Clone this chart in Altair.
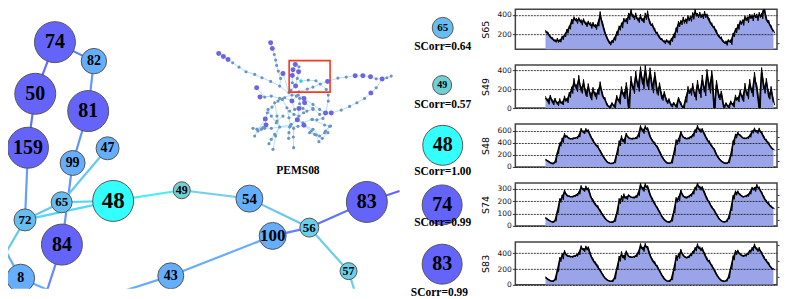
import altair as alt
import pandas as pd

PURPLE = "#6464fb"
BLUE = "#64aefb"
SKY = "#66bef0"
CYAN = "#33ffff"
TEAL = "#72d0d4"
AQUA = "#68d0e8"

# main network nodes: label, x, y, radius, colour, font size
n_labels = ["74","82","50","81","159","47","99","48","65","72","84","8","49","43","54","100","56","83","57"]
n_x = [55,94,35.3,88.3,28,107.7,72.7,113.3,61.7,25,62,20.7,182,171,249.7,273,309.7,367.3,349]
n_y = [41,60,92.7,110,146.7,147.3,162,200,201.3,219,243.7,277.3,189.3,275,197.7,235,226.7,201,270.3]
n_r = [20.5,12.7,20.5,20.5,20.5,11.5,12.5,20.5,10.5,11,20.5,14,8.5,13,13.5,13.5,9.5,20.5,8.5]
n_c = [PURPLE,BLUE,PURPLE,PURPLE,PURPLE,BLUE,BLUE,CYAN,SKY,SKY,PURPLE,BLUE,TEAL,BLUE,BLUE,BLUE,AQUA,PURPLE,AQUA]
n_f = [20,14,20,20,20,14,14,23,13,13,20,14,12,14,15,17,13,20,12]

# main network edges: x, y, x2, y2, colour
e_x  = [55,55,35.3,28,94,88.3,72.7,107.7,61.7,61.7,25,25,0,20.7,62,113.3,182,249.7,309.7,309.7,367.3,273,171,309.7,349]
e_y  = [41,41,92.7,146.7,60,110,162,147.3,201.3,201.3,219,219,240,277.3,243.7,200,189.3,197.7,226.7,226.7,201,235,275,226.7,270.3]
e_x2 = [94,35.3,28,25,88.3,72.7,62,61.7,113.3,25,113.3,0,20.7,50,47,182,249.7,309.7,273,367.3,400,171,124,349,355]
e_y2 = [60,92.7,146.7,219,110,162,243.7,201.3,200,219,200,262,277.3,290,290,189.3,197.7,226.7,235,201,190,275,290,270.3,290]
e_c  = ["#6080fb","#6070fb","#6070fb","#64a0f8","#6498fb","#6490fb","#6498f4","#64c8f4","#50d8f4","#64c8f0",
        "#55d8f4","#64c8f0","#64aef0","#64aefb","#6488fb","#45f0f0","#78d0e8","#68c4f0","#6480fb","#6472fb",
        "#6464fb","#64aefb","#64aefb","#68d0e8","#68d0e8"]

# PEMS08 overview map
mini_paths = [
    [(57,97),(71,106),(85,115),(99,125),(118,138),(139,152),(165,160),(187,170),(213,181),(240,195),(268,215)],
    [(213,65),(218,82),(224,100),(228,117),(231,133),(236,150),(243,172),(240,195)],
    [(287,130),(298,137),(297,152),(293,172),(288,195),(274,207)],
    [(287,130),(280,146),(278,163),(278,185)],
    [(304,180),(326,177),(349,179),(362,189),(384,181),(415,171),(440,168),(467,164),(490,164),(513,167),(530,173),(548,174),(562,170),(575,165)],
    [(270,212),(298,212),(323,204),(340,198),(362,189),(380,205)],
    [(548,174),(530,200),(514,216),(495,232),(472,245),(450,256),(425,267),(395,276),(378,276),(360,265),(340,250),(313,232),(296,222),(277,222)],
    [(386,222),(386,240),(378,276),(370,292),(352,296),(337,295),(310,305),(293,296),(275,310),(240,318)],
    [(171,200),(195,228),(215,225),(240,232),(277,222)],
    [(181,228),(215,225)],
    [(268,215),(250,157)],
    [(296,222),(277,240),(255,230),(235,240),(217,258),(203,275),(197,294),(199,312),(172,325)],
    [(240,318),(215,322),(190,320),(160,322)],
    [(240,318),(225,340),(215,355),(208,368)],
    [(240,318),(228,345),(220,385)],
    [(270,318),(268,335),(267,352)],
    [(282,322),(281,348),(282,380)],
    [(313,313),(335,330),(350,342),(358,362)],
    [(338,295),(375,312),(390,316),(378,330),(385,335),(368,352)],
    [(195,295),(165,345)],
    [(240,318),(270,318),(295,316),(313,313),(340,325),(368,352)],
    [(277,240),(285,265),(298,262),(293,296),(312,310)],
    [(313,232),(315,245),(340,262),(360,280),(378,276)],
    [(225,245),(232,285),(240,318)],
    [(248,235),(262,260),(268,290),(272,315)],
    [(205,265),(215,285),(230,305),(240,318)],
    [(378,330),(393,315)],
    [(270,270),(283,280),(298,285),(312,275),(322,270),(340,265)],
    [(250,285),(232,300)],
    [(300,248),(310,262),(322,270)],
    [(330,335),(345,340),(360,345),(375,335)],
    [(290,225),(300,232),(300,248)],
    [(185,325),(195,322),(175,330)],
]
mini_big = [(57,97),(71,106),(85,115),(213,65),(218,82),(250,157),(171,200),(181,228),(277,240),(313,232),
            (315,245),(298,262),(293,296),(197,294),(199,312),(313,313),(378,276),(395,276),(514,216),(548,174),
            (513,167),(490,164),(467,164),(384,181),(287,130),(280,146),(297,152),(278,163),(288,195)]
mini_cyan = [(304,180)]

box_x, box_x2, box_y, box_y2 = [289.5], [330.5], [59.5], [91]
title_x, title_y, title_text = [298.3], [170], ["PEMS08"]

# selected sensors next to the traces
s_labels = ["65","49","48","74","83"]
s_x = [443.3,442.7,443.3,442.7,442.7]
s_y = [26.7,84,144.3,204,263.3]
s_r = [10.5,9.5,20,20,20]
s_c = [SKY,TEAL,CYAN,PURPLE,PURPLE]
s_f = [11,10,20,20,20]
c_text = ["SCorr=0.64","SCorr=0.57","SCorr=1.00","SCorr=0.99","SCorr=0.99"]
c_x = [443.3,443.3,443.3,443.3,440]
c_y = [46.3,103.7,171,221.7,291.7]

# traces: centre line, and half-thickness of the noisy black band
S65 = [228,205,170,145,128,135,128,160,185,230,268,330,362,338,355,322,340,302,318,290,300,275,300,395,300,210,150,105,120,150,205,262,290,345,335,385,425,375,390,345,375,340,385,400,310,290,235,205,160,140,115,130,108,140,180,240,305,320,345,335,365,360,390,425,395,400,385,405,390,335,295,265,215,175,150,115,105,130,115,190,235,275,320,320,365,350,385,370,395,375,400,390,470,350,320,270,225]
N65 = [12,18,14,20,16,24,14,20,16,22,18,26,20,28,18,30,22,26,20,32,24,28,18,40,26,20,16,22,14,18,20,24,28,22,30,36,42,28,32,26,34,24,36,44,26,22,28,18,22,16,20,14,24,18,22,26,30,24,34,26,30,28,36,40,24,30,26,34,22,30,24,20,28,18,22,16,24,14,26,20,24,28,22,30,26,32,24,34,26,36,28,30,40,30,26,22,18]
S49 = [105,70,115,60,85,45,75,50,100,80,140,190,270,210,300,190,260,150,220,120,190,130,170,240,130,90,30,10,45,15,110,70,190,130,230,0,290,190,340,220,390,250,400,230,380,200,340,170,230,110,150,70,80,25,50,15,95,40,0,90,190,170,220,120,250,150,300,170,360,200,350,0,250,120,150,15,45,10,60,30,110,90,160,100,220,130,260,160,330,200,0,380,200,270,130,190,60]
N49 = [20,30,24,28,22,20,26,18,30,24,28,36,46,38,48,34,44,32,40,36,30,38,28,40,30,26,18,10,14,12,26,30,38,34,42,0,48,40,52,44,50,46,54,38,48,42,44,36,40,30,28,24,22,16,12,10,20,22,0,30,40,36,44,38,46,40,52,42,50,44,48,0,44,34,32,14,12,10,18,22,30,26,36,32,44,36,46,40,52,44,0,50,44,46,36,40,30]
S48 = [120,95,70,55,80,230,370,440,520,500,470,465,475,480,510,610,570,605,590,500,430,370,330,260,190,130,80,62,58,75,210,390,470,420,530,480,465,470,475,510,650,590,650,620,500,430,380,330,250,170,110,70,60,70,210,410,440,560,490,470,470,490,520,590,650,600,610,530,450,400,340,290,200,140,95,70,60,75,190,400,510,550,520,480,470,480,510,580,610,580,610,560,480,430,380,320,285]
N48 = [8,6,5,6,8,14,30,40,36,20,14,12,10,14,18,30,26,32,28,24,30,26,34,22,16,12,8,6,5,7,14,44,50,38,30,16,12,10,14,22,36,40,34,32,28,26,32,24,20,12,8,6,5,7,16,42,34,30,18,14,12,16,18,28,40,34,30,26,28,34,24,22,14,10,7,6,5,7,14,34,36,26,16,12,10,14,20,26,36,30,34,26,30,28,32,20,12]
S74 = [65,50,38,30,42,115,205,230,275,245,238,235,240,248,265,310,290,305,295,235,200,170,150,120,90,62,42,32,30,40,100,200,220,240,225,245,232,228,235,255,325,295,325,310,250,210,175,145,110,75,50,35,30,42,110,210,220,275,240,228,235,245,265,300,330,305,305,260,215,185,150,125,90,60,40,32,35,60,130,230,265,270,250,235,238,245,265,300,295,320,300,265,225,195,175,155,140]
N74 = [4,3,3,3,4,8,16,20,16,10,7,6,6,8,10,16,14,18,14,12,16,14,16,12,8,6,4,3,3,4,8,22,26,20,14,8,6,6,8,12,20,18,18,16,14,14,16,12,10,6,4,3,3,4,8,20,18,16,10,7,6,8,10,14,20,18,14,14,14,16,12,10,8,5,4,3,3,4,8,16,18,14,8,6,6,8,10,14,18,16,16,14,14,14,16,10,6]
S83 = [95,70,52,45,65,180,320,360,410,370,360,355,362,372,395,470,440,465,460,370,310,270,225,180,130,85,60,48,45,80,200,330,380,345,410,360,350,352,365,400,490,450,495,465,370,310,270,230,175,120,75,50,45,70,190,340,365,425,370,345,350,375,410,450,490,455,450,385,320,290,240,190,130,85,55,45,50,90,210,340,410,420,385,365,370,390,425,450,490,445,450,400,340,300,260,215,195]
N83 = [6,5,4,4,6,12,28,36,28,16,12,10,10,12,16,26,24,28,24,20,26,22,28,18,14,8,6,4,4,6,12,34,42,32,22,12,10,10,12,18,32,30,30,26,24,22,26,20,16,8,6,4,4,6,12,36,32,26,16,12,10,12,16,24,32,28,24,22,24,26,20,16,12,8,5,4,4,6,12,28,30,22,14,10,10,12,16,24,30,26,26,22,24,24,26,16,10]
series = [S65,S49,S48,S74,S83]
noises = [N65,N49,N48,N74,N83]
names = ["S65","S49","S48","S74","S83"]
domains = [[42,460],[0,456],[0,708],[0,346],[0,543]]
heights = [40,43,43,43,43]
majors = [[200,400],[0,200,400],[0,200,400,600],[0,100,200,300],[0,200,400]]
minors = [[100,300],[100,300],[100,300,500],[50,150,250],[100,300,500]]

LEFT, RIGHT, TOP, BOTTOM = 8, 516, 8, 288
X = alt.Scale(domain=[LEFT, RIGHT], nice=False)
Y = alt.Scale(domain=[BOTTOM, TOP], nice=False)
SERIF = "Liberation Serif"

def px(col): return alt.X(col, type="quantitative", scale=X, axis=None)
def py(col): return alt.Y(col, type="quantitative", scale=Y, axis=None)

def nodes_layer(df):
    return alt.Chart(df).mark_point(filled=True, opacity=1, stroke="#555555", strokeWidth=1, clip=True).encode(
        x=px("x"), y=py("y"),
        size=alt.Size("area:Q", scale=None, legend=None),
        fill=alt.Fill("c:N", scale=None, legend=None))

def labels_layer(df):
    return alt.Chart(df).mark_text(font=SERIF, fontWeight="bold", color="black", clip=True).encode(
        x=px("x"), y=py("y"), text="t:N",
        size=alt.Size("f:Q", scale=None, legend=None))

main_nodes = pd.DataFrame({"x":n_x,"y":n_y,"area":[4*r*r for r in n_r],"c":n_c,"t":n_labels,"f":n_f})
side_nodes = pd.DataFrame({"x":s_x,"y":s_y,"area":[4*r*r for r in s_r],"c":s_c,"t":s_labels,"f":s_f})

main_edges = pd.DataFrame({"x":e_x,"y":e_y,"x2":e_x2,"y2":e_y2,"c":e_c})
edge_layer = alt.Chart(main_edges).mark_rule(strokeWidth=2.2, clip=True).encode(
    x=px("x"), y=py("y"), x2="x2:Q", y2="y2:Q", color=alt.Color("c:N", scale=None, legend=None))

mx = lambda p: 200 + p[0] / 3
my = lambda p: 20 + p[1] / 3
rows = []
for path in mini_paths:
    for a, b in zip(path[:-1], path[1:]):
        rows.append({"x": mx(a), "y": my(a), "x2": mx(b), "y2": my(b)})
mini_edges = alt.Chart(pd.DataFrame(rows)).mark_rule(strokeWidth=0.8, color="#a0d8f0").encode(
    x=px("x"), y=py("y"), x2="x2:Q", y2="y2:Q")

seen = sorted({p for path in mini_paths for p in path} - set(mini_big) - set(mini_cyan))
mini_small_df = pd.DataFrame({"x":[mx(p) for p in seen],"y":[my(p) for p in seen]})
mini_small = alt.Chart(mini_small_df).mark_point(filled=True, size=10, color="#6a94c4", opacity=1).encode(x=px("x"), y=py("y"))
mini_big_df = pd.DataFrame({"x":[mx(p) for p in mini_big],"y":[my(p) for p in mini_big]})
mini_large = alt.Chart(mini_big_df).mark_point(filled=True, size=25, color="#6c64e0", opacity=1).encode(x=px("x"), y=py("y"))
mini_c_df = pd.DataFrame({"x":[mx(p) for p in mini_cyan],"y":[my(p) for p in mini_cyan]})
mini_cy = alt.Chart(mini_c_df).mark_point(filled=True, size=14, color="#30d8d8", opacity=1).encode(x=px("x"), y=py("y"))

box = alt.Chart(pd.DataFrame({"x":box_x,"x2":box_x2,"y":box_y,"y2":box_y2})).mark_rect(
    fillOpacity=0, stroke="#f43a22", strokeWidth=1.6).encode(x=px("x"), y=py("y"), x2="x2:Q", y2="y2:Q")

title = alt.Chart(pd.DataFrame({"x":title_x,"y":title_y,"t":title_text})).mark_text(
    font=SERIF, fontWeight="bold", fontSize=11.5, color="black").encode(x=px("x"), y=py("y"), text="t:N")

corr = alt.Chart(pd.DataFrame({"x":c_x,"y":c_y,"t":c_text})).mark_text(
    font=SERIF, fontWeight="bold", fontSize=11.5, color="black").encode(x=px("x"), y=py("y"), text="t:N")

left = alt.layer(
    edge_layer, nodes_layer(main_nodes), labels_layer(main_nodes),
    mini_edges, mini_small, mini_large, mini_cy, box, title,
    nodes_layer(side_nodes), labels_layer(side_nodes), corr,
).properties(width=RIGHT - LEFT, height=BOTTOM - TOP, view=alt.ViewConfig(stroke=None))

XD = alt.Scale(domain=[-12.7, 97.5], nice=False)

def panel(name, vals, noise, dom, h, maj, mino):
    df = pd.DataFrame({"i": list(range(len(vals))), "v": vals})
    zig_x, zig_y = [], []
    for i, (a, b) in enumerate(zip(vals, noise)):
        zig_x += [i, i + 0.5]
        zig_y += [a + b, max(a - b, 0)]
    zig = pd.DataFrame({"i": zig_x, "z": zig_y})
    ys = alt.Scale(domain=dom, nice=False)
    major_axis = alt.Axis(values=maj, title=name, grid=True, gridColor="#111111", gridDash=[2, 1], gridWidth=0.8,
                          domain=False, tickSize=3, tickColor="#333333", labelFont="DejaVu Sans", labelFontSize=7.5,
                          labelColor="#111111", labelPadding=1, titleFont="DejaVu Sans", titleFontSize=9.5,
                          titleFontWeight="normal", titlePadding=7, zindex=1)
    minor_axis = alt.Axis(values=mino, title=None, grid=False, domain=False, labels=False, tickSize=2, tickColor="#333333")
    area = alt.Chart(df).mark_area(color="#9aa4e8", opacity=1, clip=True).encode(
        x=alt.X("i:Q", scale=XD, axis=None), y=alt.Y("v:Q", scale=ys, axis=major_axis))
    band = alt.Chart(zig).mark_line(color="black", strokeWidth=1.0, clip=True).encode(
        x=alt.X("i:Q", scale=XD, axis=None), y=alt.Y("z:Q", scale=ys, axis=minor_axis))
    line = alt.Chart(df).mark_line(color="black", strokeWidth=1.5, clip=True).encode(
        x=alt.X("i:Q", scale=XD, axis=None), y=alt.Y("v:Q", scale=ys, axis=None))
    return alt.layer(area, band, line).resolve_axis(y="independent").properties(
        width=262, height=h, view=alt.ViewConfig(stroke="#444444", strokeWidth=1.5))

right = alt.vconcat(*[panel(*a) for a in zip(names, series, noises, domains, heights, majors, minors)],
                    spacing=16, bounds="flush")

chart = alt.hconcat(left, right, spacing=0, bounds="flush").properties(
    padding=0, background="white")

chart.save("out.html", embed_options={"renderer": "svg", "actions": False})
